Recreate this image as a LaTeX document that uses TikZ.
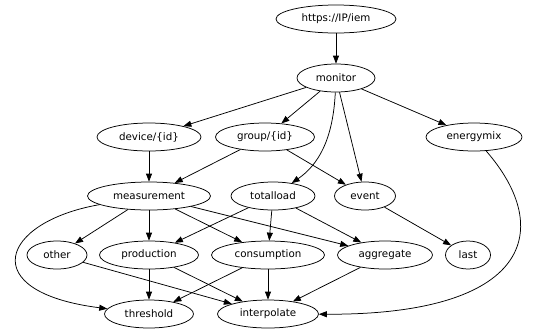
\documentclass[tikz,border=0pt]{standalone}
\usepackage{fontspec}
\setmainfont{DejaVu Sans}
\usetikzlibrary{shapes.geometric,arrows.meta}
\begin{document}
\begin{tikzpicture}[x=1pt,y=-1pt,
  nd/.style={ellipse,draw,line width=0.75pt,inner sep=0pt,minimum height=28pt,
    font=\fontsize{10.3pt}{12pt}\selectfont},
  edge/.style={line width=0.75pt,-{Triangle[length=8pt,width=6pt]}}]
\path[use as bounding box] (0,0) rectangle (540,330);
% nodes
\node[nd,minimum width=120pt] (iem) at (336,19) {https://IP/iem};
\node[nd,minimum width=78pt] (monitor) at (336,78) {monitor};
\node[nd,minimum width=104pt] (device) at (149,137) {device/\{id\}};
\node[nd,minimum width=99pt] (group) at (265,137) {group/\{id\}};
\node[nd,minimum width=96pt] (energymix) at (474,137) {energymix};
\node[nd,minimum width=123pt] (measurement) at (149,196) {measurement};
\node[nd,minimum width=84pt] (totalload) at (273,196) {totalload};
\node[nd,minimum width=61pt] (event) at (365,196) {event};
\node[nd,minimum width=60pt] (other) at (57,255) {other};
\node[nd,minimum width=99pt] (production) at (149,255) {production};
\node[nd,minimum width=113pt] (consumption) at (268,255) {consumption};
\node[nd,minimum width=95pt] (aggregate) at (385,255) {aggregate};
\node[nd,minimum width=45pt] (last) at (468,255) {last};
\node[nd,minimum width=89pt] (threshold) at (149,314) {threshold};
\node[nd,minimum width=101pt] (interpolate) at (268,314) {interpolate};
% edges
\draw[edge] (iem) -- (monitor);
\draw[edge] (monitor) -- (device);
\draw[edge] (monitor) -- (group);
\draw[edge] (monitor) -- (energymix);
\draw[edge] (monitor) .. controls (333,140) and (318,165) .. (totalload);
\draw[edge] (monitor) -- (event);
\draw[edge] (device) -- (measurement);
\draw[edge] (group) -- (measurement);
\draw[edge] (group) -- (event);
\draw[edge] (measurement) -- (other);
\draw[edge] (measurement) -- (production);
\draw[edge] (measurement) -- (consumption);
\draw[edge] (measurement) -- (aggregate);
\draw[edge] (measurement) .. controls (0,222) and (-25,292) .. (threshold);
\draw[edge] (totalload) -- (production);
\draw[edge] (totalload) -- (consumption);
\draw[edge] (totalload) -- (aggregate);
\draw[edge] (event) -- (last);
\draw[edge] (energymix) .. controls (555,230) and (530,315) .. (interpolate);
\draw[edge] (other) -- (interpolate);
\draw[edge] (production) -- (threshold);
\draw[edge] (production) -- (interpolate);
\draw[edge] (consumption) -- (threshold);
\draw[edge] (consumption) -- (interpolate);
\draw[edge] (aggregate) -- (interpolate);
\end{tikzpicture}
\end{document}
